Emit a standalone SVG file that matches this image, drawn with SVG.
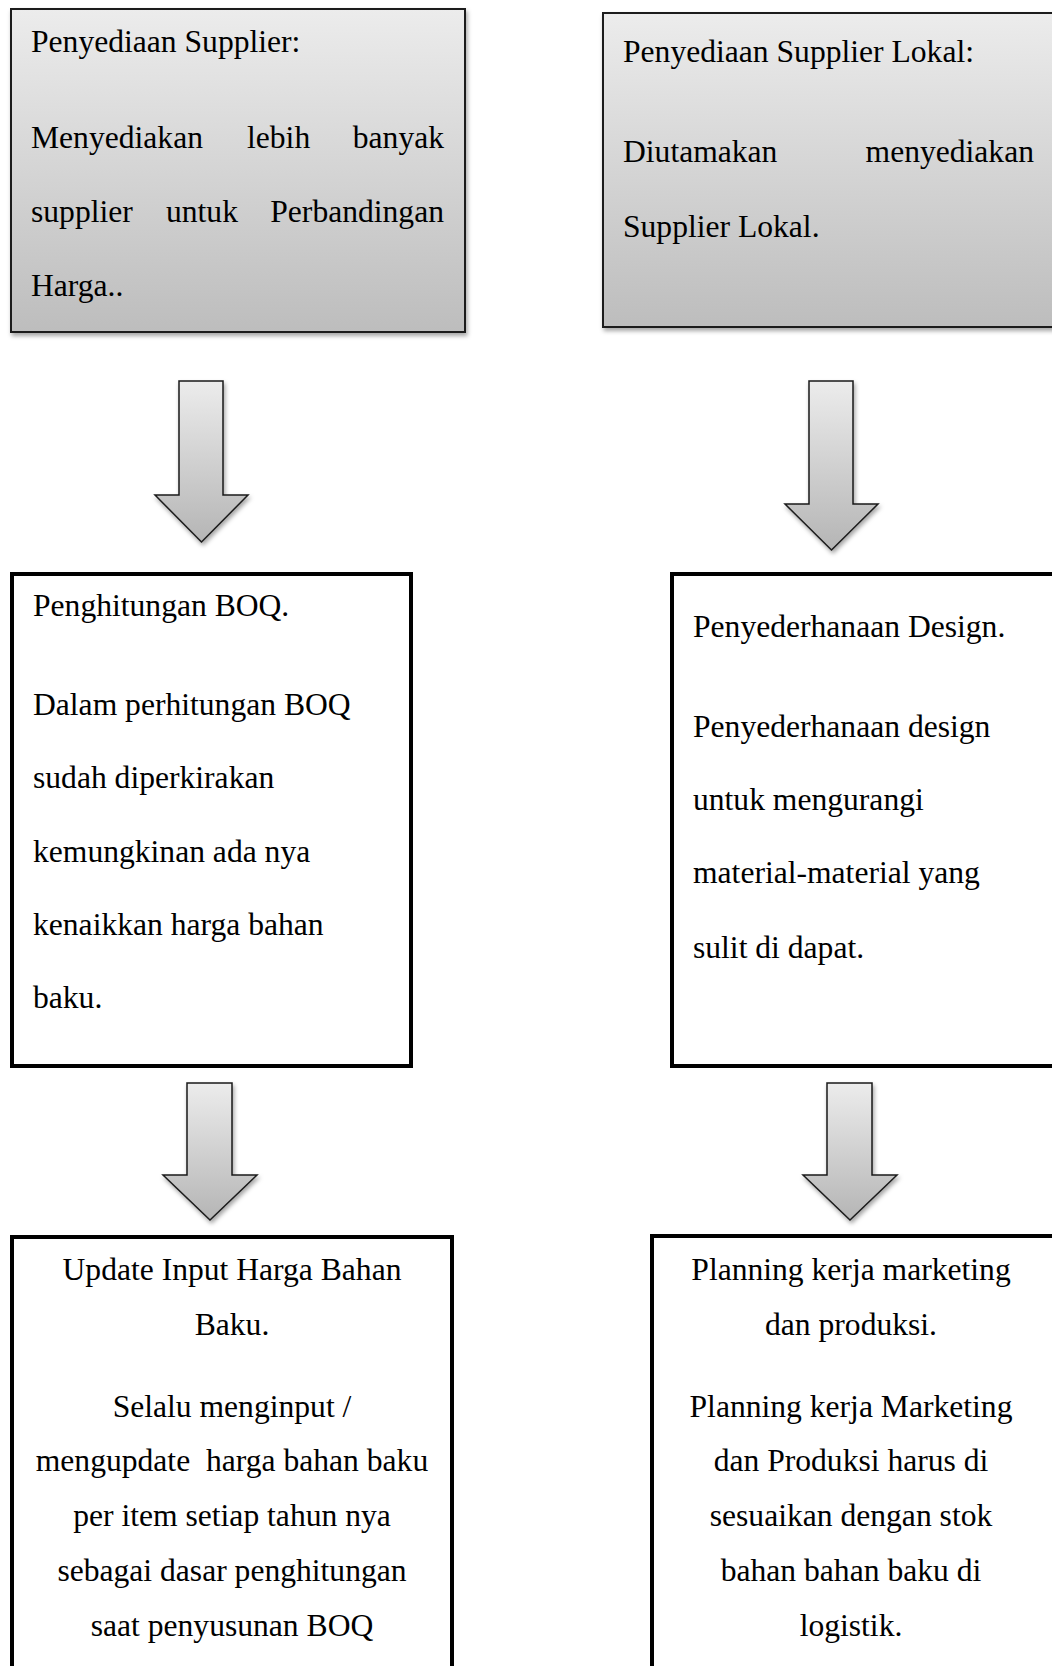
<svg xmlns="http://www.w3.org/2000/svg" width="1052" height="1666" viewBox="0 0 1052 1666">
<style>
.t{font-family:"Liberation Serif","Times New Roman",serif;font-size:31.6px;fill:#000}
.c{text-anchor:middle}
.e{text-anchor:end}
.gbox{fill:url(#g1);stroke:#1a1a1a;stroke-width:2;filter:url(#sh)}
.wbox{fill:#fff;stroke:#000;stroke-width:4}
.arr{fill:url(#g2);stroke:#1a1a1a;stroke-width:1.5;stroke-linejoin:miter;filter:url(#sh)}
</style>
<defs>
<linearGradient id="g1" x1="0" y1="0" x2="0" y2="1">
<stop offset="0" stop-color="#ececec"/>
<stop offset="1" stop-color="#bdbdbd"/>
</linearGradient>
<linearGradient id="g2" x1="0" y1="0" x2="0" y2="1">
<stop offset="0" stop-color="#ececec"/>
<stop offset="1" stop-color="#b5b5b5"/>
</linearGradient>
<filter id="sh" x="-10%" y="-10%" width="130%" height="130%">
<feDropShadow dx="1.5" dy="3" stdDeviation="2" flood-color="#000" flood-opacity="0.35"/>
</filter>
</defs>
<rect width="1052" height="1666" fill="#fff"/>

<g id="connectors">
<path class="arr" d="M179,381 H223 V495 H248 L201.5,542 L155,495 H179 Z"/>
<path class="arr" d="M809,381 H853 V504 H878 L831.5,550 L785,504 H809 Z"/>
<path class="arr" d="M187,1083 H232 V1175 H257 L210,1220 L163,1175 H187 Z"/>
<path class="arr" d="M827,1083 H872 V1175 H897 L850,1220 L803,1175 H827 Z"/>
</g>

<g id="node-penyediaan-supplier">
<rect class="gbox" x="11" y="9" width="454" height="323"/>
<text class="t" x="31" y="52">Penyediaan Supplier:</text>
<text class="t" x="31" y="148">Menyediakan</text>
<text class="t" x="247" y="148">lebih</text>
<text class="t e" x="444" y="148">banyak</text>
<text class="t" x="31" y="222">supplier</text>
<text class="t" x="166" y="222">untuk</text>
<text class="t e" x="444" y="222">Perbandingan</text>
<text class="t" x="31" y="296">Harga..</text>
</g>

<g id="node-supplier-lokal">
<rect class="gbox" x="603" y="13" width="480" height="314"/>
<text class="t" x="623" y="62">Penyediaan Supplier Lokal:</text>
<text class="t" x="623" y="162">Diutamakan</text>
<text class="t e" x="1034" y="162">menyediakan</text>
<text class="t" x="623" y="237">Supplier Lokal.</text>
</g>

<g id="node-penghitungan-boq">
<rect class="wbox" x="12" y="574" width="399" height="492"/>
<text class="t" x="33" y="616">Penghitungan BOQ.</text>
<text class="t" x="33" y="715">Dalam perhitungan BOQ</text>
<text class="t" x="33" y="788">sudah diperkirakan</text>
<text class="t" x="33" y="862">kemungkinan ada nya</text>
<text class="t" x="33" y="935">kenaikkan harga bahan</text>
<text class="t" x="33" y="1008">baku.</text>
</g>

<g id="node-penyederhanaan-design">
<rect class="wbox" x="672" y="574" width="420" height="492"/>
<text class="t" x="693" y="637">Penyederhanaan Design.</text>
<text class="t" x="693" y="737">Penyederhanaan design</text>
<text class="t" x="693" y="810">untuk mengurangi</text>
<text class="t" x="693" y="883">material-material yang</text>
<text class="t" x="693" y="958">sulit di dapat.</text>
</g>

<g id="node-update-harga">
<rect class="wbox" x="12" y="1237" width="440" height="500"/>
<text class="t c" x="232" y="1280">Update Input Harga Bahan</text>
<text class="t c" x="232" y="1335">Baku.</text>
<text class="t c" x="232" y="1417">Selalu menginput /</text>
<text class="t c" x="232" y="1471" xml:space="preserve">mengupdate  harga bahan baku</text>
<text class="t c" x="232" y="1526">per item setiap tahun nya</text>
<text class="t c" x="232" y="1581">sebagai dasar penghitungan</text>
<text class="t c" x="232" y="1636">saat penyusunan BOQ</text>
</g>

<g id="node-planning">
<rect class="wbox" x="652" y="1236" width="460" height="500"/>
<text class="t c" x="851" y="1280">Planning kerja marketing</text>
<text class="t c" x="851" y="1335">dan produksi.</text>
<text class="t c" x="851" y="1417">Planning kerja Marketing</text>
<text class="t c" x="851" y="1471">dan Produksi harus di</text>
<text class="t c" x="851" y="1526">sesuaikan dengan stok</text>
<text class="t c" x="851" y="1581">bahan bahan baku di</text>
<text class="t c" x="851" y="1636">logistik.</text>
</g>
</svg>
